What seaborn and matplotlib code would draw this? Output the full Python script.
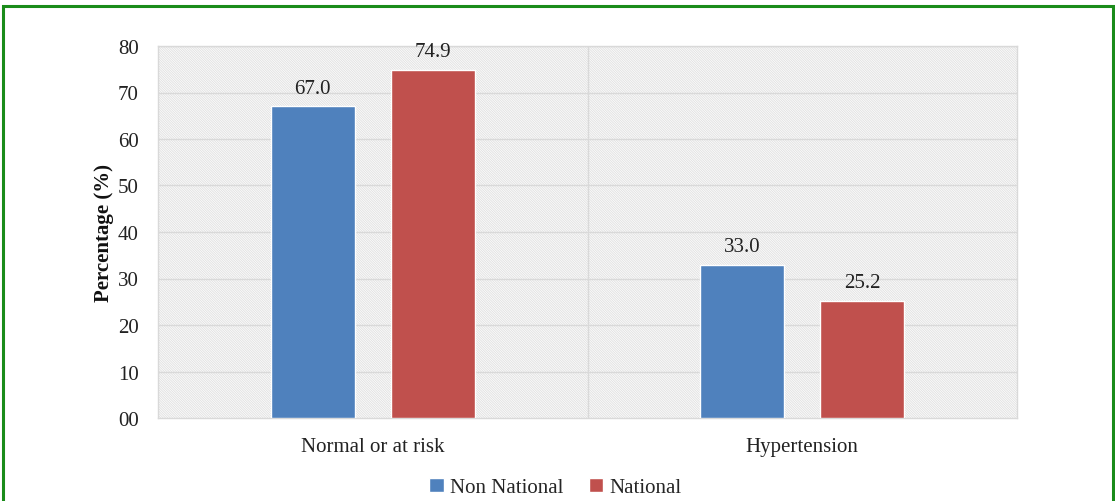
import pandas as pd
import numpy as np
import matplotlib as mpl
import matplotlib.pyplot as plt
from matplotlib.patches import Rectangle
import seaborn as sns

sns.set_theme(style='white')
plt.rcParams['font.family'] = ['Liberation Serif', 'DejaVu Serif']
plt.rcParams['hatch.color'] = '#e2e2e2'
plt.rcParams['hatch.linewidth'] = 0.7

categories = ['Normal or at risk', 'Hypertension']
groups = ['Non National', 'National']
non_national = [67.0, 33.0]
national = [74.9, 25.2]
yticks = [0, 10, 20, 30, 40, 50, 60, 70, 80]
ytick_labels = ['00', '10', '20', '30', '40', '50', '60', '70', '80']

df = pd.DataFrame({
    'category': categories * 2,
    'group': [groups[0]] * 2 + [groups[1]] * 2,
    'value': non_national + national,
})

fig = plt.figure(figsize=(11.15, 5.02), dpi=100)
ax = fig.add_axes([158 / 1115, 1 - 419 / 502, 859 / 1115, 372 / 502])

# hatched background
ax.set_facecolor('white')
bg = Rectangle((0, 0), 1, 1, transform=ax.transAxes, facecolor='white',
               edgecolor='#e2e2e2', hatch='\\' * 14, linewidth=0, zorder=0)
ax.add_patch(bg)

sns.barplot(data=df, x='category', y='value', hue='group', hue_order=groups,
            palette=['#4F81BD', '#C0504D'], width=0.56, gap=0.3,
            saturation=1, ax=ax, zorder=3)

for cont in ax.containers:
    ax.bar_label(cont, fmt='%.1f', padding=6, fontsize=15, color='#222222')

ax.set_xlim(-0.5, 1.5)
ax.set_ylim(0, 80)
ax.set_yticks(yticks)
ax.set_yticklabels(ytick_labels, fontsize=15, color='#222222')
ax.tick_params(axis='x', labelsize=15, colors='#222222', pad=14, length=0)
ax.tick_params(axis='y', pad=14, length=0)
ax.set_xlabel('')
ax.set_ylabel('Percentage (%)', fontsize=15, fontweight='bold', color='#111111', labelpad=3)

for y in yticks[1:]:
    ax.axhline(y, color='#d9d9d9', linewidth=1, zorder=1)
ax.axvline(0.5, color='#d9d9d9', linewidth=1, zorder=1)

for s in ax.spines.values():
    s.set_color('#d9d9d9')
    s.set_linewidth(1)

ax.legend(loc='upper center', bbox_to_anchor=(0.5 - (32 / 859), -0.11), ncol=2,
          frameon=False, fontsize=15, handlelength=0.7, handleheight=0.7,
          handletextpad=0.3, columnspacing=1.2)

border = Rectangle((3 / 1115, -0.05), 1110 / 1115, 1 - 7 / 502 + 0.05,
                   transform=fig.transFigure, fill=False, edgecolor='#1a8c1a',
                   linewidth=2.2, clip_on=False)
fig.patches.append(border)

fig.savefig('out.png', dpi=100)
